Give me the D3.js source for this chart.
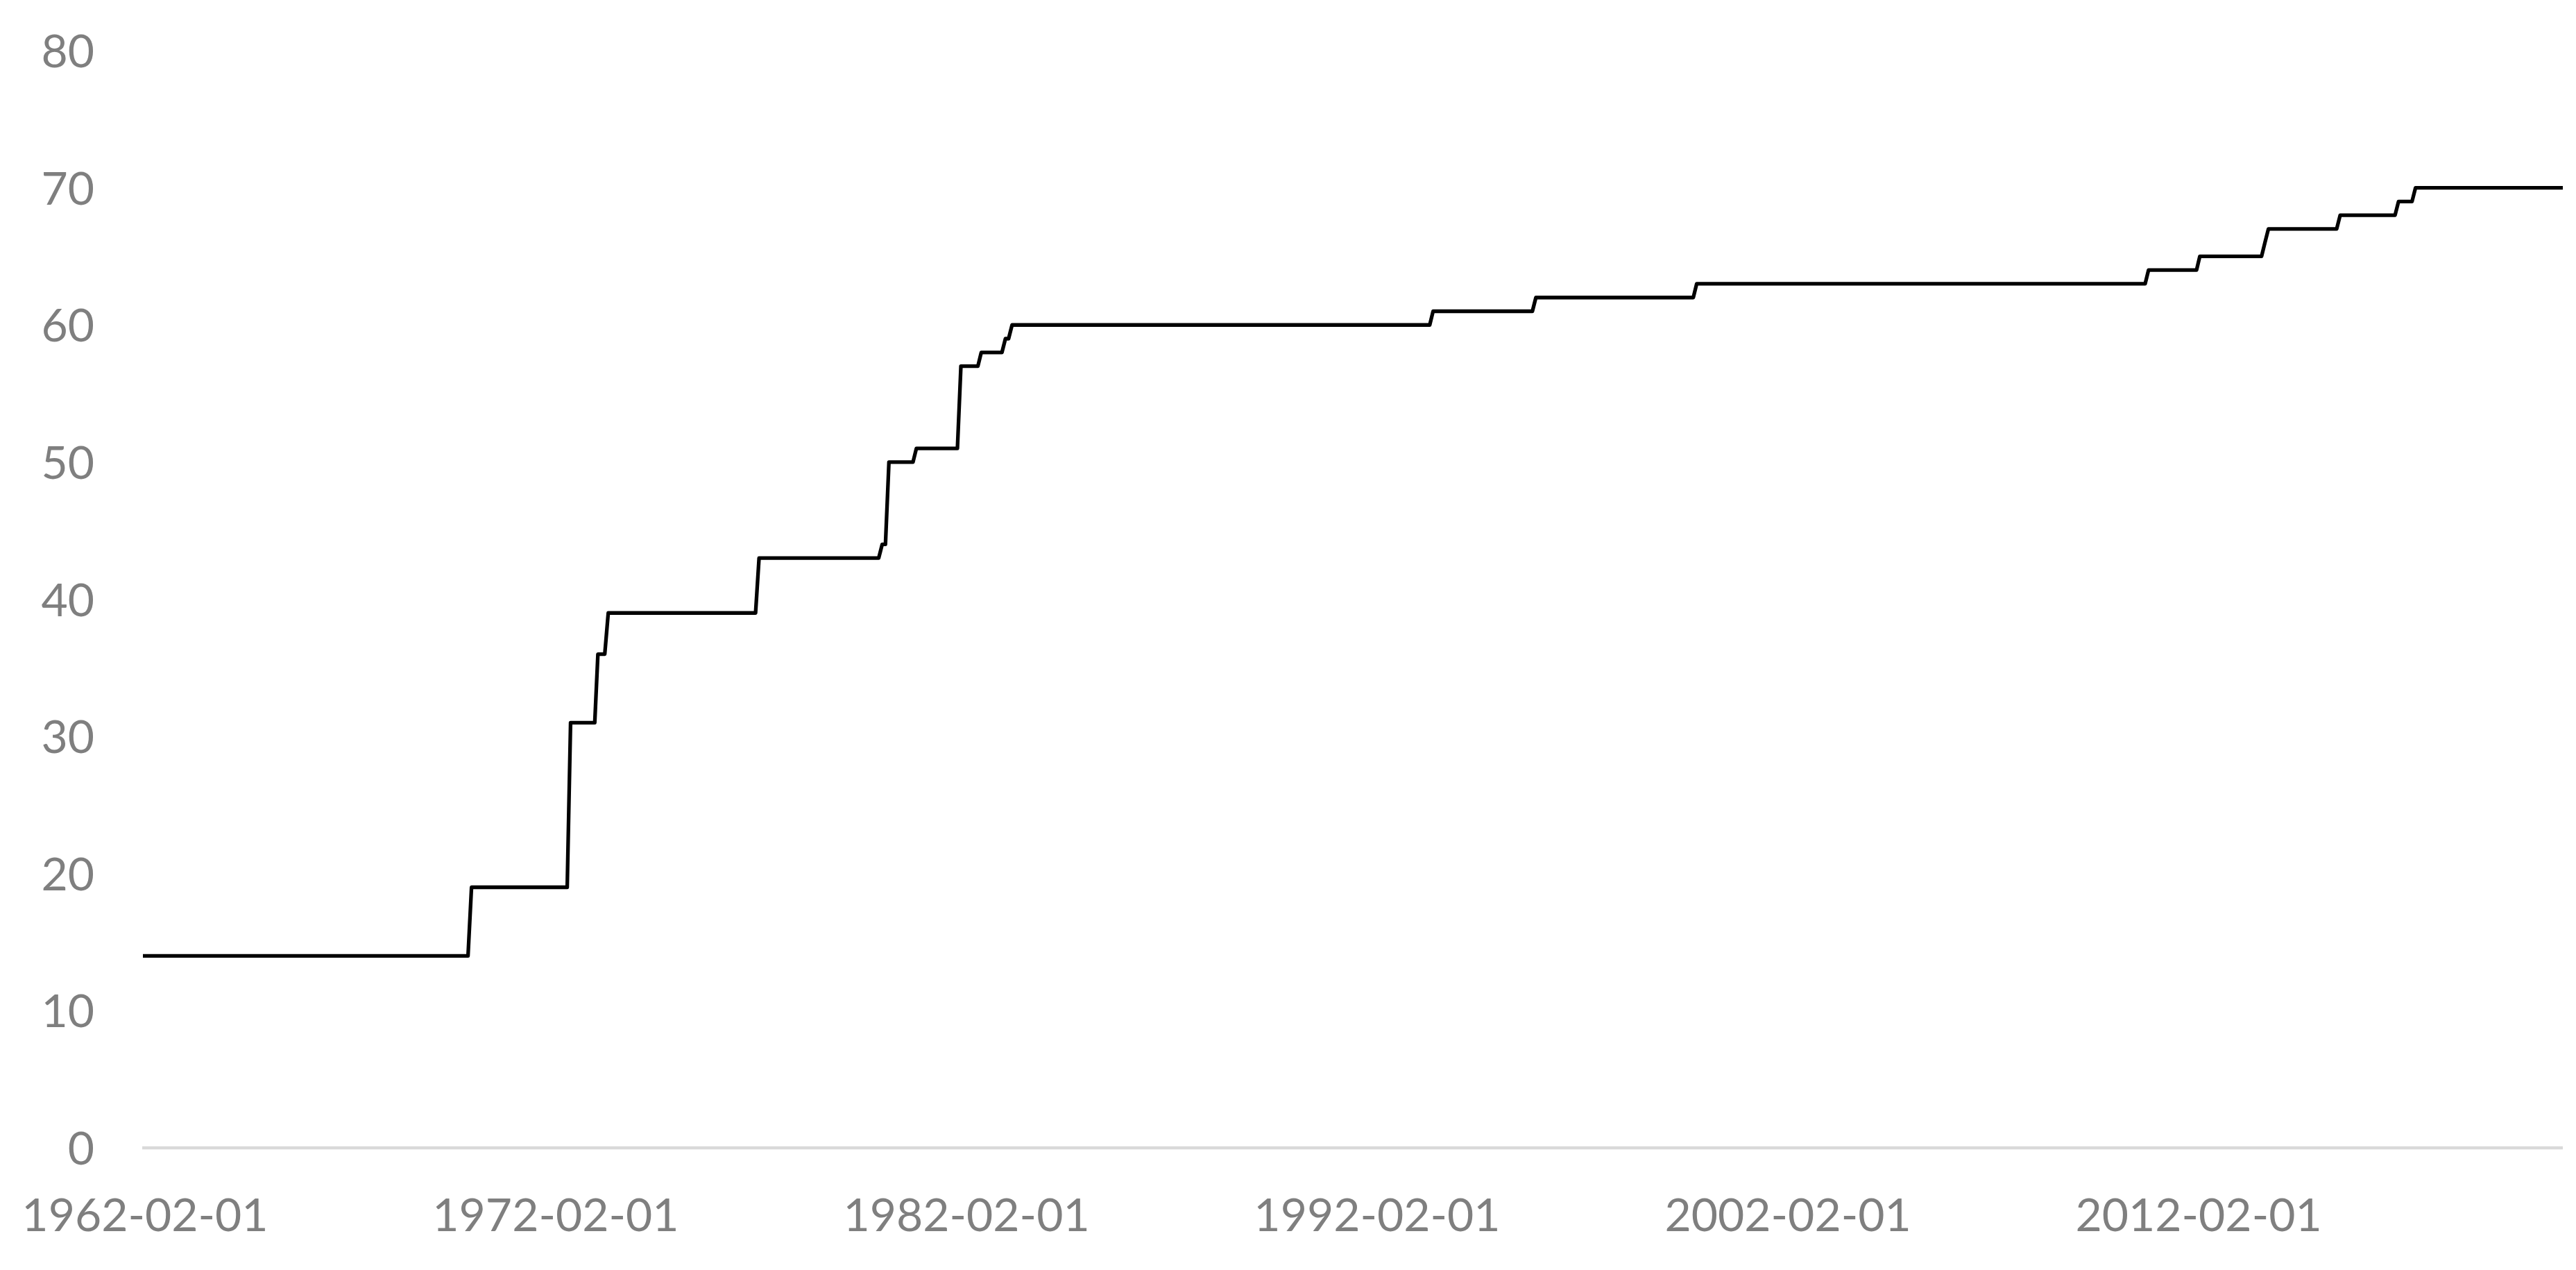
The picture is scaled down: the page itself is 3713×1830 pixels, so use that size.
<!DOCTYPE html>
<html>
<head>
<meta charset="utf-8">
<script src="https://cdn.jsdelivr.net/npm/d3@7"></script>
<style>
  html, body { margin: 0; padding: 0; background: #ffffff; }
  svg { display: block; }
</style>
</head>
<body>
<svg id="chart" width="3713" height="1830"></svg>
<script>
// Step-line vertices (month, value)
const vertexDates = [
  "1962-02-01", "1970-01-01", "1970-02-01", "1972-06-01", "1972-07-01",
  "1973-02-01", "1973-03-01", "1973-05-01", "1973-06-01", "1977-01-01",
  "1977-02-01", "1980-01-01", "1980-02-01", "1980-03-01", "1980-04-01",
  "1980-11-01", "1980-12-01", "1981-12-01", "1982-01-01", "1982-06-01",
  "1982-07-01", "1983-01-01", "1983-02-01", "1983-03-01", "1983-04-01",
  "1993-06-01", "1993-07-01", "1995-12-01", "1996-01-01", "1999-11-01",
  "1999-12-01", "2010-11-01", "2010-12-01", "2012-02-01", "2012-03-01",
  "2013-09-01", "2013-10-01", "2013-11-01", "2015-07-01", "2015-08-01",
  "2016-12-01", "2017-01-01", "2017-05-01", "2017-06-01", "2021-01-01"
];
const vertexValues = [
  14, 14, 19, 19, 31,
  31, 36, 36, 39, 39,
  43, 43, 44, 44, 50,
  50, 51, 51, 57, 57,
  58, 58, 59, 59, 60,
  60, 61, 61, 62, 62,
  63, 63, 64, 64, 65,
  65, 66, 67, 67, 68,
  68, 69, 69, 70, 70
];
const firstMonth = "1962-02-01";
const lastMonth = "2021-01-01";
const xTickLabels = ["1962-02-01", "1972-02-01", "1982-02-01", "1992-02-01", "2002-02-01", "2012-02-01"];
const yTickValues = [0, 10, 20, 30, 40, 50, 60, 70, 80];

const parse = d3.utcParse("%Y-%m-%d");
const svg = d3.select("#chart");
svg.append("rect").attr("width", 3713).attr("height", 1830).attr("fill", "#ffffff");

const x = d3.scaleUtc()
  .domain([parse(firstMonth), parse(lastMonth)])
  .range([206, 3694]);
const y = d3.scaleLinear().domain([0, 80]).range([1654, 73]);

const fontFamily = "Lato, 'Open Sans', sans-serif";
const textColor = "#7f7f7f";

// X axis
const xAxis = d3.axisBottom(x)
  .tickValues(xTickLabels.map(parse))
  .tickFormat(d3.utcFormat("%Y-%m-%d"))
  .tickSize(0)
  .tickPadding(0);
const gx = svg.append("g").attr("transform", `translate(0,${y(0)})`).call(xAxis);
gx.select(".domain")
  .attr("d", `M${x.range()[0] - 1},0H${x.range()[1]}`)
  .attr("stroke", "#d9d9d9").attr("stroke-width", 4.7);
gx.selectAll(".tick text")
  .attr("y", 120).attr("dy", 0)
  .attr("fill", textColor)
  .attr("font-family", fontFamily)
  .attr("font-size", 66)
  .attr("text-anchor", "middle")
  .attr("dx", 2.5);

// Y axis (labels only)
const yAxis = d3.axisLeft(y)
  .tickValues(yTickValues)
  .tickFormat(d3.format("d"))
  .tickSize(0)
  .tickPadding(0);
const gy = svg.append("g").attr("transform", `translate(136,0)`).call(yAxis);
gy.select(".domain").remove();
gy.selectAll(".tick text")
  .attr("x", 0).attr("dy", "0")
  .attr("y", 23.5)
  .attr("fill", textColor)
  .attr("font-family", fontFamily)
  .attr("font-size", 66)
  .attr("text-anchor", "end");

// Line
const points = vertexDates.map((d, i) => ({ date: parse(d), value: vertexValues[i] }));
const line = d3.line().x(d => x(d.date)).y(d => y(d.value));
svg.append("path")
  .datum(points)
  .attr("d", line)
  .attr("fill", "none")
  .attr("stroke", "#000000")
  .attr("stroke-width", 5.3)
  .attr("stroke-linejoin", "round")
  .attr("stroke-linecap", "butt");
</script>
</body>
</html>
